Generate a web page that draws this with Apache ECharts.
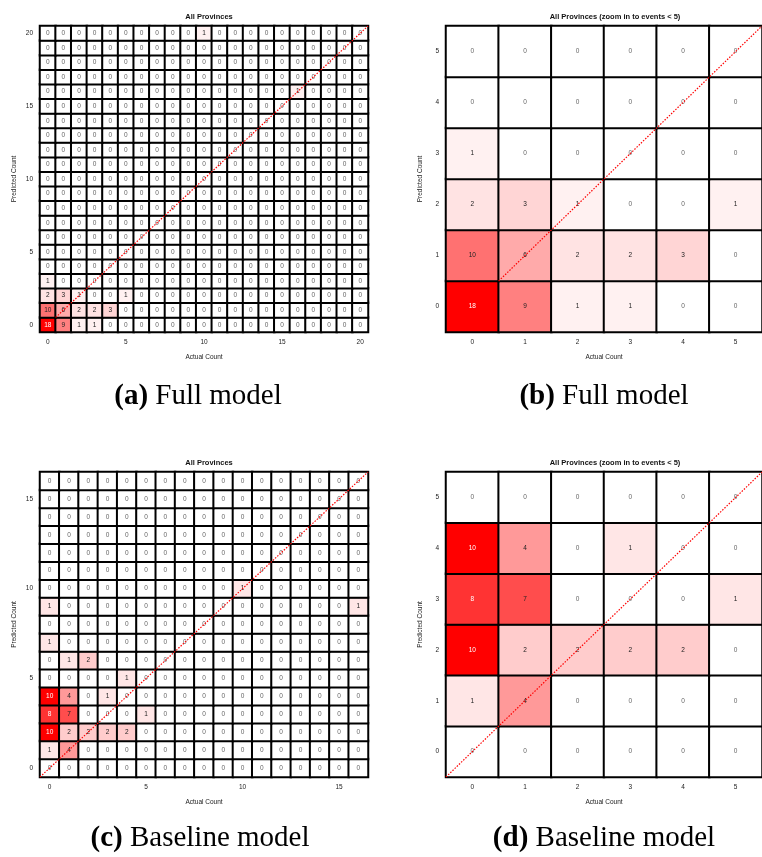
<!DOCTYPE html>
<html>
<head>
<meta charset="utf-8">
<script src="https://cdn.jsdelivr.net/npm/echarts@6/dist/echarts.min.js"></script>
<style>
html, body { margin: 0; background: #fff; }
#chart { width: 762px; height: 857px; }
</style>
</head>
<body>
<div id="chart"></div>
<script>
// non-zero cells only, as [actual, predicted, count]; all other cells are 0
const fullSize = 21
const fullCells = [[0,0,18],[1,0,9],[2,0,1],[3,0,1],[0,1,10],[1,1,6],[2,1,2],[3,1,2],[4,1,3],
    [0,2,2],[1,2,3],[2,2,1],[5,2,1],[0,3,1],[16,16,1],[10,20,1]]
const fullZoomSize = 6
const fullZoomCells = [[0,0,18],[1,0,9],[2,0,1],[3,0,1],[0,1,10],[1,1,6],[2,1,2],[3,1,2],[4,1,3],
    [0,2,2],[1,2,3],[2,2,1],[5,2,1],[0,3,1]]
const baseSize = 17
const baseCells = [[0,1,1],[1,1,4],[0,2,10],[1,2,2],[2,2,2],[3,2,2],[4,2,2],[0,3,8],[1,3,7],[5,3,1],
    [0,4,10],[1,4,4],[3,4,1],[4,5,1],[1,6,1],[2,6,2],[0,7,1],[0,9,1],[16,9,1],[10,10,1]]
const baseZoomSize = 6
const baseZoomCells = [[0,1,1],[1,1,4],[0,2,10],[1,2,2],[2,2,2],[3,2,2],[4,2,2],[0,3,8],[1,3,7],[5,3,1],
    [0,4,10],[1,4,4],[3,4,1]]

// the dotted reference line, in cell units
const diagFull = [[0.5,0.5],[20.5,20.5]]
const diagFullZoom = [[0.5,0.5],[5.5,5.5]]
const diagBase = [[-0.5,-0.5],[16.5,16.5]]
const diagBaseZoom = [[-0.5,-0.5],[5.5,5.5]]

const titles = ['All Provinces', 'All Provinces (zoom in to events < 5)', 'All Provinces', 'All Provinces (zoom in to events < 5)']
const captions = [['(a)', 'Full model'], ['(b)', 'Full model'], ['(c)', 'Baseline model'], ['(d)', 'Baseline model']]

const panels = [
    {size: fullSize, cells: fullCells, diag: diagFull, step: 5, left: 40, top: 26, height: 306},
    {size: fullZoomSize, cells: fullZoomCells, diag: diagFullZoom, step: 1, left: 446, top: 26, height: 306},
    {size: baseSize, cells: baseCells, diag: diagBase, step: 5, left: 40, top: 472, height: 305},
    {size: baseZoomSize, cells: baseZoomCells, diag: diagBaseZoom, step: 1, left: 446, top: 472, height: 305}
]
const captionPos = [[193, 377], [599, 377], [195, 819], [599, 819]]

const sans = 'Liberation Sans'
const serif = 'Liberation Serif'

function buildData(size, cells) {
    let max = Math.max(...cells.map(c => c[2]))
    let data = []
    for (let y = 0; y < size; y++) {
        for (let x = 0; x < size; x++) {
            let hit = cells.find(c => c[0] === x && c[1] === y)
            data.push([x, y, hit ? hit[2] : 0])
        }
    }
    return {data, max}
}

let chart = echarts.init(document.getElementById('chart'))
let option = {
    animation: false,
    backgroundColor: '#fff',
    title: [], grid: [], xAxis: [], yAxis: [], visualMap: [], series: []
}

panels.forEach((p, i) => {
    let cats = []
    for (let k = 0; k < p.size; k++) cats.push(String(k))
    let every = (idx) => idx % p.step === 0
    let built = buildData(p.size, p.cells)

    option.grid.push({left: p.left, top: p.top, width: 328, height: p.height})
    option.title.push({
        text: titles[i], left: p.left + 164, top: p.top - 18, textAlign: 'center',
        textStyle: {fontFamily: sans, fontSize: 7.5, fontWeight: 'bold', color: '#111'}
    })
    option.xAxis.push({
        type: 'category', data: cats, gridIndex: i,
        name: 'Actual Count', nameLocation: 'middle', nameGap: 22,
        nameTextStyle: {fontFamily: sans, fontSize: 6.5, color: '#222'},
        axisLine: {show: false},
        axisTick: {alignWithLabel: true, interval: every, length: 4, lineStyle: {color: '#000'}},
        axisLabel: {interval: every, margin: 7, fontFamily: sans, fontSize: 6.5, color: '#222'},
        splitLine: {show: false}
    })
    option.yAxis.push({
        type: 'category', data: cats, gridIndex: i,
        name: 'Predicted Count', nameLocation: 'middle', nameGap: 22, nameRotate: 90,
        nameTextStyle: {fontFamily: sans, fontSize: 6.5, color: '#222'},
        axisLine: {show: false},
        axisTick: {alignWithLabel: true, interval: every, length: 4, lineStyle: {color: '#000'}},
        axisLabel: {interval: every, margin: 7, fontFamily: sans, fontSize: 6.5, color: '#222'},
        splitLine: {show: false}
    })
    option.visualMap.push({
        type: 'continuous', show: false, seriesIndex: i * 3, dimension: 2,
        min: 0, max: built.max, inRange: {color: ['#ffffff', '#ff0000']}
    })
    option.series.push({
        type: 'heatmap', xAxisIndex: i, yAxisIndex: i, data: built.data,
        itemStyle: {borderColor: '#000', borderWidth: 2},
        label: {show: false},
        emphasis: {disabled: true}
    })
    option.series.push({
        type: 'line', xAxisIndex: 4 + i, yAxisIndex: 4 + i, data: p.diag,
        symbol: 'none', z: 5, silent: true,
        lineStyle: {color: '#ff0000', width: 1.2, type: [1.5, 1.5]}
    })
    // cell counts, drawn as plain text at each cell centre
    option.series.push({
        type: 'custom', xAxisIndex: i, yAxisIndex: i, data: built.data, z: 4, silent: true,
        renderItem: (params, api) => {
            let pt = api.coord([api.value(0), api.value(1)])
            let v = api.value(2)
            let fill = v / built.max > 0.75 ? '#fff' : (v > 0 ? '#222' : '#666')
            return {
                type: 'text', x: pt[0], y: pt[1],
                style: {
                    text: String(v), fill: fill,
                    font: '6.5px "' + sans + '"', align: 'center', verticalAlign: 'middle'
                }
            }
        }
    })
})

// hidden value axes so the diagonal can sit on cell corners
panels.forEach((p, i) => {
    option.xAxis.push({type: 'value', gridIndex: i, min: -0.5, max: p.size - 0.5, show: false})
    option.yAxis.push({type: 'value', gridIndex: i, min: -0.5, max: p.size - 0.5, show: false})
})

captions.forEach((c, i) => {
    option.title.push({
        text: '{b|' + c[0] + '} ' + c[1],
        left: captionPos[i][0], top: captionPos[i][1], textAlign: 'center',
        textStyle: {
            fontFamily: serif, fontSize: 29, fontWeight: 'normal', color: '#000',
            rich: {b: {fontFamily: serif, fontSize: 29, fontWeight: 'bold', color: '#000'}}
        }
    })
})

chart.setOption(option)
</script>
</body>
</html>
